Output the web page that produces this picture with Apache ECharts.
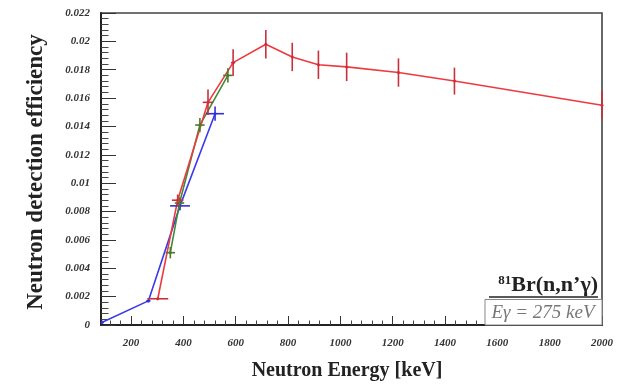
<!DOCTYPE html>
<html>
<head>
<meta charset="utf-8">
<script src="https://cdn.jsdelivr.net/npm/echarts@6/dist/echarts.min.js"></script>
<style>
  html, body { margin: 0; padding: 0; background: #fff; }
  #chart { width: 624px; height: 388px; }
</style>
</head>
<body>
<div id="chart"></div>
<script>
// Neutron detection efficiency vs neutron energy, 81Br(n,n'γ), Eγ = 275 keV

// Red set
const redE    = [302, 378, 494, 590, 715, 816, 916, 1024, 1222, 1436, 2000];
const redEff  = [0.00185, 0.0088, 0.0157, 0.0185, 0.0198, 0.0189, 0.01835, 0.0182, 0.0178, 0.0172, 0.0155];
const redEErr = [40, 22, 20, 8, 4, 4, 4, 4, 4, 4, 4];
const redErr  = [0.0001, 0.0004, 0.0009, 0.00095, 0.001, 0.001, 0.001, 0.001, 0.001, 0.00095, 0.001];

// Green set
const greenE    = [350, 385, 463, 570];
const greenEff  = [0.0051, 0.0086, 0.0141, 0.0176];
const greenEErr = [18, 18, 18, 18];
const greenErr  = [0.0004, 0.0004, 0.0005, 0.0005];

// Blue set
const blueE    = [90, 266, 387, 521];
const blueEff  = [0.0002, 0.0017, 0.0084, 0.0149];
const blueEErr = [0, 8, 38, 34];
const blueErr  = [0.0001, 0.0001, 0.0003, 0.0005];

// Axis ticks
const xTickLabels = [200, 400, 600, 800, 1000, 1200, 1400, 1600, 1800, 2000];
const xMinorTicks = [120, 160, 240, 280, 320, 360, 440, 480, 520, 560, 640, 680, 720, 760,
  840, 880, 920, 960, 1040, 1080, 1120, 1160, 1240, 1280, 1320, 1360, 1440, 1480, 1520, 1560,
  1640, 1680, 1720, 1760, 1840, 1880, 1920, 1960];

const X_MIN = 85, X_MAX = 2000;

function pairs(xs, ys) { return xs.map((x, i) => [x, ys[i]]); }
function errRows(xs, ys, xe, ye) { return xs.map((x, i) => [x, ys[i], xe[i], ye[i]]); }

function errorBars(data, color) {
  return {
    type: 'custom',
    silent: true,
    z: 3,
    data: data,
    renderItem: function (params, api) {
      const x = api.value(0), y = api.value(1), ex = api.value(2), ey = api.value(3);
      const l = api.coord([Math.max(X_MIN, x - ex), y]);
      const r = api.coord([Math.min(X_MAX, x + ex), y]);
      const t = api.coord([x, y + ey]);
      const b = api.coord([x, Math.max(0, y - ey)]);
      const style = { stroke: color, lineWidth: 1.6 };
      return {
        type: 'group',
        children: [
          { type: 'line', shape: { x1: l[0], y1: l[1], x2: r[0], y2: r[1] }, style: style },
          { type: 'line', shape: { x1: t[0], y1: t[1], x2: b[0], y2: b[1] }, style: style }
        ]
      };
    }
  };
}

function curve(data, color) {
  return {
    type: 'line',
    data: data,
    symbol: 'circle',
    symbolSize: 3,
    itemStyle: { color: color },
    lineStyle: { color: color, width: 1.6 },
    z: 2
  };
}

const serif = '"Liberation Serif", "DejaVu Serif", serif';

const chart = echarts.init(document.getElementById('chart'), null, { renderer: 'canvas' });

chart.setOption({
  animation: false,
  backgroundColor: '#ffffff',
  grid: {
    left: 101, right: 22, top: 13, bottom: 63,
    show: true, borderColor: '#444', borderWidth: 1.6, backgroundColor: 'transparent'
  },
  xAxis: [
    {
      type: 'value', min: X_MIN, max: X_MAX,
      axisLine: { show: true, onZero: false, lineStyle: { color: '#222', width: 2 } },
      axisTick: { show: true, inside: true, length: 9, customValues: xTickLabels,
                  lineStyle: { color: '#333', width: 1 } },
      axisLabel: { show: true, customValues: xTickLabels, margin: 13,
                   formatter: function (v) { return String(v); },
                   fontFamily: serif, fontStyle: 'italic', fontWeight: 'bold', fontSize: 11, color: '#333' },
      splitLine: { show: false }
    },
    {
      type: 'value', min: X_MIN, max: X_MAX, position: 'bottom',
      axisLine: { show: false },
      axisTick: { show: true, inside: true, length: 4.5, customValues: xMinorTicks,
                  lineStyle: { color: '#444', width: 1 } },
      axisLabel: { show: false },
      splitLine: { show: false }
    }
  ],
  yAxis: {
    type: 'value', min: 0, max: 0.022, interval: 0.002,
    axisLine: { show: true, onZero: false, lineStyle: { color: '#222', width: 2 } },
    axisTick: { show: true, inside: true, length: 15, lineStyle: { color: '#333', width: 1 } },
    minorTick: { show: true, splitNumber: 5, length: 7.5, lineStyle: { color: '#444', width: 1 } },
    axisLabel: { margin: 11, fontFamily: serif, fontStyle: 'italic', fontWeight: 'bold',
                 fontSize: 11, color: '#333' },
    splitLine: { show: false },
    minorSplitLine: { show: false }
  },
  series: [
    curve(pairs(blueE, blueEff), '#3a3aee'),
    curve(pairs(greenE, greenEff), '#3d8c3a'),
    curve(pairs(redE, redEff), '#ee3a3e'),
    errorBars(errRows(blueE, blueEff, blueEErr, blueErr), '#3030d8'),
    errorBars(errRows(greenE, greenEff, greenEErr, greenErr), '#4a7a2a'),
    errorBars(errRows(redE, redEff, redEErr, redErr), '#c8303c')
  ],
  graphic: [
    {
      type: 'text', x: 36, y: 172, rotation: Math.PI / 2, z: 10,
      style: { text: 'Neutron detection efficiency', fontFamily: serif, fontWeight: 'bold',
               fontSize: 23, fill: '#222', align: 'center', verticalAlign: 'middle' }
    },
    {
      type: 'text', x: 347, y: 371, z: 10,
      style: { text: 'Neutron Energy [keV]', fontFamily: serif, fontWeight: 'bold',
               fontSize: 20, fill: '#222', align: 'center', verticalAlign: 'middle' }
    },
    {
      type: 'text', x: 598, y: 285, z: 10,
      style: {
        text: '{sup|81}{main|Br(n,n’γ)}',
        align: 'right', verticalAlign: 'middle',
        rich: {
          sup: { fontFamily: serif, fontWeight: 'bold', fontSize: 13, fill: '#222', verticalAlign: 'top', padding: [0, 0, 9, 0] },
          main: { fontFamily: serif, fontWeight: 'bold', fontSize: 22, fill: '#222' }
        }
      }
    },
    {
      type: 'line', z: 10,
      shape: { x1: 489, y1: 297, x2: 598, y2: 297 },
      style: { stroke: '#222', lineWidth: 1.6 }
    },
    {
      type: 'rect', z: 9,
      shape: { x: 485, y: 299.5, width: 117, height: 25.5 },
      style: { fill: '#fff', stroke: '#888', lineWidth: 1 }
    },
    {
      type: 'text', x: 543, y: 313, z: 10,
      style: { text: 'Eγ = 275 keV', fontFamily: serif, fontStyle: 'italic',
               fontSize: 19, fill: '#777', align: 'center', verticalAlign: 'middle' }
    }
  ]
});
</script>
</body>
</html>
